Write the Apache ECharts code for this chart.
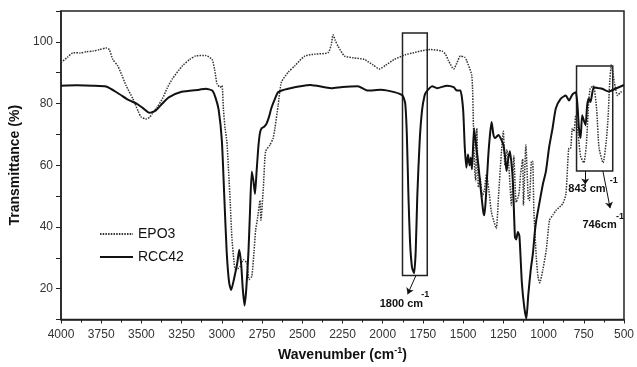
<!DOCTYPE html>
<html>
<head>
<meta charset="utf-8">
<script src="https://cdn.jsdelivr.net/npm/echarts@6/dist/echarts.min.js"></script>
<style>
html, body { margin: 0; padding: 0; background: #fff; }
#chart { width: 637px; height: 367px; }
</style>
</head>
<body>
<div id="chart"></div>
<script>
// wavenumber (cm-1) / transmittance (%)
const rccWn = [4000, 3900, 3800, 3720, 3650, 3575, 3530, 3490, 3450, 3410, 3370, 3330, 3250, 3140, 3100, 3060, 3040, 3020, 3000, 2985,
    2970, 2955, 2942, 2925, 2917, 2905, 2892, 2880, 2870, 2859, 2848, 2835, 2825, 2814, 2804, 2794, 2784, 2773, 2763, 2753,
    2737, 2722, 2705, 2693, 2670, 2650, 2588, 2450, 2320, 2250, 2155, 2093, 2011, 1928, 1877, 1860, 1850, 1840, 1830, 1818,
    1805, 1795, 1785, 1770, 1755, 1740, 1730, 1692, 1662, 1600, 1559, 1538, 1517, 1500, 1490, 1480, 1470, 1460, 1452, 1445,
    1432, 1420, 1405, 1390, 1375, 1368, 1358, 1345, 1333, 1323, 1312, 1302, 1281, 1250, 1238, 1230, 1220, 1209, 1195, 1189,
    1178, 1170, 1160, 1150, 1135, 1120, 1107, 1095, 1080, 1066, 1055, 1045, 1025, 1004, 985, 965, 944, 924, 893, 862,
    842, 820, 800, 790, 780, 770, 760, 750, 739, 729, 719, 708, 688, 660, 636, 595, 554, 500];
const rccT = [85.8, 85.9, 85.8, 85.5, 83.5, 81, 80, 78.5, 77, 77.8, 80, 82, 83.8, 84.5, 84.8, 84.2, 82, 78, 68, 50,
    32, 22, 19.6, 23, 25, 28, 32.6, 28, 20, 14.5, 20, 31.5, 45, 58, 55, 50.7, 58, 66, 70.5, 72,
    72.5, 73.5, 76, 78.4, 81.5, 83.7, 84.8, 86, 85, 85.4, 85.6, 84.2, 84.5, 83.7, 82.6, 80, 70, 50, 35, 27,
    25, 32, 50, 68, 78, 82.5, 83.7, 85.6, 85, 85.8, 85.3, 84.2, 84.2, 78, 66, 59.2, 63.5, 60, 62.4, 58.7,
    72, 66.6, 60, 52, 45, 43.8, 50, 62, 70, 74, 70, 68.8, 69.8, 66.6, 62, 58.1, 62, 64.5, 58, 52.8,
    36.8, 35.9, 38.4, 37, 22, 14, 10.3, 18, 26, 31.5, 38, 42.2, 48, 53.9, 58.1, 66, 72, 78.4, 81.6, 82.6,
    81, 83, 83.7, 80, 72, 68.8, 76.2, 74.6, 73, 79.4, 81.6, 80.5, 85.3, 85, 84.8, 83.9, 84.8, 86];

const epoWn = [4000, 3960, 3924, 3880, 3842, 3800, 3760, 3720, 3700, 3678, 3647, 3620, 3595, 3554, 3520, 3503, 3472, 3450, 3431, 3400,
    3369, 3340, 3308, 3246, 3200, 3164, 3102, 3061, 3045, 3030, 3010, 2999, 2990, 2980, 2969, 2958, 2948, 2938, 2925, 2917,
    2900, 2886, 2866, 2845, 2831, 2814, 2800, 2790, 2777, 2763, 2757, 2742, 2728, 2701, 2681, 2670, 2650, 2630, 2588, 2547,
    2485, 2422, 2340, 2320, 2309, 2295, 2278, 2237, 2180, 2114, 2060, 2021, 1980, 1928, 1860, 1805, 1750, 1702, 1631, 1610,
    1590, 1559, 1540, 1517, 1490, 1477, 1446, 1436, 1428, 1422, 1415, 1405, 1395, 1380, 1368, 1355, 1340, 1325, 1310, 1294,
    1280, 1263, 1250, 1240, 1228, 1215, 1200, 1185, 1170, 1153, 1143, 1130, 1125, 1110, 1095, 1088, 1075, 1068, 1060, 1045,
    1035, 1024, 1005, 983, 963, 940, 922, 881, 861, 842, 832, 821, 811, 800, 785, 770, 750, 735, 720, 710,
    690, 670, 655, 630, 610, 598, 590, 578, 560, 540, 520, 500];
const epoT = [93.3, 95, 96.5, 96.4, 96.8, 97, 97.5, 98, 97.5, 94.3, 92.2, 89, 85.8, 81.6, 77.5, 75.7, 75, 75.5, 76.8, 79,
    81.6, 85, 88, 92.2, 94.3, 95.4, 95.6, 94.3, 91, 86.4, 85.3, 85.8, 78, 72, 67.8, 58, 48, 36.8, 29, 26.3,
    26.5, 27.2, 29.4, 28.3, 23, 24, 32, 39, 43.2, 48.6, 42.2, 52.8, 64.5, 66.6, 68.8, 72, 79.4, 86.9, 90.1, 92.2,
    95.4, 96, 96.5, 99, 102.3, 100.5, 98.6, 95.4, 94.8, 94.3, 92.5, 91.2, 92.5, 94.3, 95.8, 96.5, 97.2, 97.5, 97, 96,
    93.8, 91.2, 93, 95.4, 95, 93.8, 89, 73, 58, 55, 72, 52.8, 56, 50, 52, 57, 52, 45, 42, 39.5,
    50, 63.5, 71, 60, 65, 59.2, 47, 63, 48, 50.7, 57, 62, 47, 66.6, 49, 48.6, 61.3, 61.3, 45, 30,
    24, 21.9, 26, 32.6, 42.2, 44, 45.4, 47.5, 50.7, 65.6, 65.6, 72, 71, 76.2, 70, 63, 60.8, 66, 80, 84.8,
    85.8, 78, 65.6, 60.8, 68, 76.2, 85.8, 92.7, 86.9, 82.6, 83.7, 84];

// annotation boxes [wn1, T1, wn2, T2], arrows [fromWn, fromT, toWn, toT], notes [wn, T, text]
const boxes = [[1877, 102.9, 1723, 24.3], [795, 92.2, 570, 58.1]];
const arrows = [[1793, 24.3, 1845, 18.2], [741, 58.1, 741, 53.8], [631, 58.1, 586, 46.1]];
const notes = [[1884, 15.0, '1800 cm'], [730, 52.2, '843 cm'], [652, 40.6, '746cm']];
const sups = [[1735, 18.0], [563, 55.2], [525, 43.5]];

const zip = (xs, ys) => xs.map((x, i) => [x, ys[i]]);

const chart = echarts.init(document.getElementById('chart'));

const noteData = notes.map(n => ({
    coord: [n[0], n[1]],
    label: { formatter: n[2], fontSize: 11 }
})).concat(sups.map(s => ({
    coord: [s[0], s[1]],
    label: { formatter: '-1', fontSize: 9 }
})));

const option = {
    backgroundColor: '#fff',
    animation: false,
    textStyle: { fontFamily: 'Liberation Sans, Arial, sans-serif' },
    grid: {
        left: 61, right: 9, top: 11, bottom: 43,
        show: true, borderColor: '#222', borderWidth: 1.5
    },
    legend: {
        orient: 'vertical',
        left: 99,
        top: 227,
        padding: 0,
        itemWidth: 33,
        itemHeight: 14,
        itemGap: 9,
        itemStyle: { opacity: 0 },
        textStyle: { fontSize: 14, color: '#111' },
        data: ['EPO3', 'RCC42']
    },
    xAxis: {
        type: 'value',
        inverse: true,
        min: 500,
        max: 4000,
        interval: 250,
        name: 'Wavenumber (cm{s|-1})',
        nameLocation: 'middle',
        nameGap: 27,
        nameTextStyle: {
            fontSize: 14, fontWeight: 'bold', color: '#111',
            rich: { s: { fontSize: 9, fontWeight: 'bold', verticalAlign: 'top', padding: [0, 0, 8, 0] } }
        },
        axisLine: { lineStyle: { color: '#222', width: 1.5 } },
        axisTick: { length: 4, lineStyle: { color: '#222' } },
        minorTick: { show: true, splitNumber: 2, length: 3, lineStyle: { color: '#222' } },
        axisLabel: { fontSize: 12, color: '#333', margin: 9, formatter: v => String(v) },
        splitLine: { show: false }
    },
    yAxis: {
        type: 'value',
        min: 10,
        max: 110,
        interval: 10,
        name: 'Transmittance (%)',
        nameLocation: 'middle',
        nameGap: 36,
        nameTextStyle: { fontSize: 14, fontWeight: 'bold', color: '#111' },
        axisLine: { show: true, lineStyle: { color: '#222', width: 1.5 } },
        axisTick: { length: 5, lineStyle: { color: '#222' } },
        axisLabel: {
            fontSize: 12, color: '#333', margin: 8,
            formatter: v => (v % 20 === 0 && v <= 100 ? String(v) : '')
        },
        splitLine: { show: false }
    },
    series: [
        {
            name: 'EPO3',
            type: 'line',
            symbol: 'none',
            smooth: 0.2,
            data: zip(epoWn, epoT),
            lineStyle: { color: '#333', width: 1.5, type: [1.5, 1.2] },
            itemStyle: { color: '#333' }
        },
        {
            name: 'RCC42',
            type: 'line',
            symbol: 'none',
            smooth: 0.2,
            data: zip(rccWn, rccT),
            lineStyle: { color: '#111', width: 2 },
            itemStyle: { color: '#111' },
            markArea: {
                silent: true,
                itemStyle: { color: 'rgba(0,0,0,0)', borderColor: '#222', borderWidth: 1.5 },
                data: boxes.map(b => [{ coord: [b[0], b[1]] }, { coord: [b[2], b[3]] }])
            },
            markLine: {
                silent: true,
                symbol: ['none', 'arrow'],
                symbolSize: 6,
                label: { show: false },
                lineStyle: { color: '#111', width: 1, type: 'solid' },
                data: arrows.map(a => [{ coord: [a[0], a[1]] }, { coord: [a[2], a[3]] }])
            },
            markPoint: {
                silent: true,
                symbol: 'circle',
                symbolSize: 0,
                label: { show: true, position: 'inside', color: '#111', fontWeight: 'bold' },
                data: noteData
            }
        }
    ]
};

chart.setOption(option);
</script>
</body>
</html>
